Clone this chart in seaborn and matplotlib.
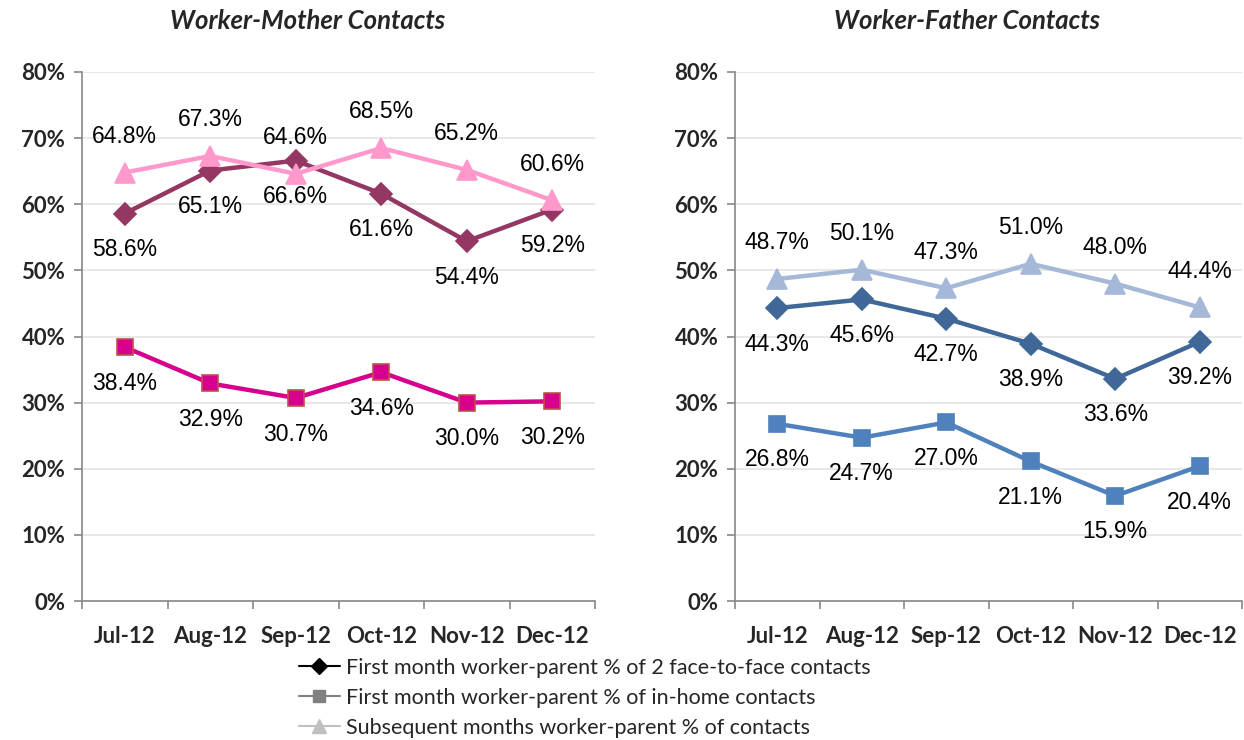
import matplotlib
matplotlib.use("Agg")
import matplotlib.pyplot as plt
import seaborn as sns
import pandas as pd
import numpy as np
from matplotlib.lines import Line2D

months = ["Jul-12", "Aug-12", "Sep-12", "Oct-12", "Nov-12", "Dec-12"]
mother_f2f = [58.6, 65.1, 66.6, 61.6, 54.4, 59.2]
mother_home = [38.4, 32.9, 30.7, 34.6, 30.0, 30.2]
mother_subseq = [64.8, 67.3, 64.6, 68.5, 65.2, 60.6]
father_f2f = [44.3, 45.6, 42.7, 38.9, 33.6, 39.2]
father_home = [26.8, 24.7, 27.0, 21.1, 15.9, 20.4]
father_subseq = [48.7, 50.1, 47.3, 51.0, 48.0, 44.4]
titles = ["Worker-Mother Contacts", "Worker-Father Contacts"]
legend_labels = ["First month worker-parent % of 2 face-to-face contacts",
                 "First month worker-parent % of in-home contacts",
                 "Subsequent months worker-parent % of contacts"]

sns.set_style("white")
plt.rcParams['font.family'] = ['Lato', 'DejaVu Sans']

fig = plt.figure(figsize=(12.44, 7.4), dpi=100)
ax1 = fig.add_axes([82/1244, 1-601/740, (595-82)/1244, (601-72)/740])
ax2 = fig.add_axes([735/1244, 1-601/740, (1242-735)/1244, (601-72)/740])

label_font = ['Liberation Sans Narrow', 'Liberation Sans', 'DejaVu Sans']

panels = [
    (ax1, titles[0], 0.439, [
        (mother_f2f, "#953763", "#953763", "D", 11, -1),
        (mother_home, "#D6008C", "#C0504D", "s", 12, -1),
        (mother_subseq, "#FF99CC", "#FF99CC", "^", 14, 1),
    ]),
    (ax2, titles[1], 0.458, [
        (father_f2f, "#3F6797", "#3F6797", "D", 11, -1),
        (father_home, "#4F81BD", "#4F81BD", "s", 12, -1),
        (father_subseq, "#A5B8D7", "#A5B8D7", "^", 14, 1),
    ]),
]

x = np.arange(len(months))
for ax, title, tx, series in panels:
    for vals, col, ecol, mk, ms, side in series:
        df = pd.DataFrame({"x": x, "y": vals})
        sns.lineplot(data=df, x="x", y="y", ax=ax, color=col, linewidth=3.2,
                     marker=mk, markersize=ms, markerfacecolor=col,
                     markeredgecolor=ecol, markeredgewidth=1.2, legend=False)
        for xi, v in zip(x, vals):
            ax.annotate(f"{v:.1f}%", (xi, v), xytext=(0, 26 * side),
                        textcoords="offset points", ha="center", va="center",
                        fontsize=16.5, family=label_font, color="black")
    ax.set_xlim(-0.5, len(months) - 0.5)
    ax.set_ylim(0, 80)
    ax.set_yticks(np.arange(0, 81, 10))
    ax.set_yticklabels([f"{t}%" for t in range(0, 81, 10)], fontsize=16, fontweight="bold")
    ax.set_xticks(x)
    ax.set_xticklabels(months, fontsize=16, fontweight="bold")
    ax.set_xticks(np.arange(-0.5, len(months), 1), minor=True)
    ax.tick_params(axis="x", which="major", bottom=False, length=0, pad=18)
    ax.tick_params(axis="x", which="minor", bottom=True, length=6, color="#888888", direction="out", width=1.2)
    ax.tick_params(axis="y", left=True, length=6, color="#888888", direction="out", width=1.2, pad=6)
    ax.grid(axis="y", color="#E8E8E8", linewidth=1.5)
    ax.set_axisbelow(True)
    ax.set_xlabel("")
    ax.set_ylabel("")
    for s in ["top", "right"]:
        ax.spines[s].set_visible(False)
    for s in ["left", "bottom"]:
        ax.spines[s].set_color("#888888")
        ax.spines[s].set_linewidth(1.2)
    ax.set_title(title, fontsize=18.5, fontweight="bold", fontstyle="italic", pad=31, x=tx)

handles = [
    Line2D([], [], color="black", marker="D", markersize=8, linewidth=1.5),
    Line2D([], [], color="#808080", marker="s", markersize=8, linewidth=1.5),
    Line2D([], [], color="#C0C0C0", marker="^", markersize=10, linewidth=1.5),
]
fig.legend(handles, legend_labels, loc="upper left", bbox_to_anchor=(288/1244, 1-647/740),
           frameon=False, fontsize=15.5, handlelength=1.9, handletextpad=0.3,
           labelspacing=0.46, borderpad=0)

fig.savefig("out.png", dpi=100)
